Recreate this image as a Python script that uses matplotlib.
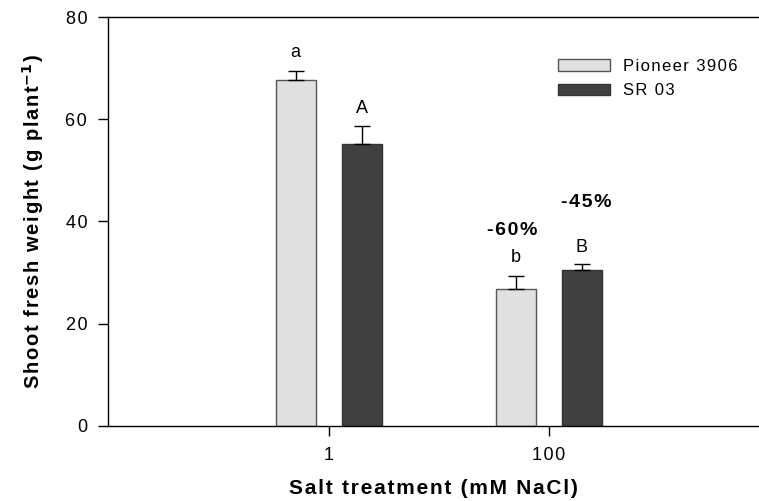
import numpy as np
import matplotlib.pyplot as plt

plt.rcParams['font.family'] = ['Liberation Sans', 'DejaVu Sans']

treatments = ["1", "100"]
pioneer = [67.6, 26.7]
pioneer_err = [1.9, 2.7]
sr03 = [55.1, 30.4]
sr03_err = [3.6, 1.2]
pioneer_letters = ["a", "b"]
sr03_letters = ["A", "B"]
reductions = ["-60%", "-45%"]


def spaced(s, sp="\u200a"):
    # the original figure has wide letter spacing
    return sp.join(s)


x = np.arange(len(treatments))
w = 0.18
off = 0.15

fig = plt.figure(figsize=(7.59, 5.01), dpi=100)
ax = fig.add_axes([108 / 759, 1 - 425.7 / 501, 1 - 108 / 759, (425.7 - 17) / 501])

ax.bar(x - off, pioneer, w, color="#e0e0e0", edgecolor="#555555", linewidth=1,
       label=spaced("Pioneer 3906"), zorder=2)
ax.bar(x + off, sr03, w, color="#404040", edgecolor="#333333", linewidth=1,
       label=spaced("SR 03"), zorder=2)
ax.errorbar(x - off, pioneer, yerr=[np.zeros(2), pioneer_err], fmt="none", ecolor="black",
            elinewidth=1, capsize=6, capthick=1, zorder=3)
ax.errorbar(x + off, sr03, yerr=[np.zeros(2), sr03_err], fmt="none", ecolor="black",
            elinewidth=1, capsize=6, capthick=1, zorder=3)

# significance letters above error bars
for i in range(len(x)):
    ax.text(x[i] - off, pioneer[i] + pioneer_err[i] + 3.5, pioneer_letters[i],
            ha="center", va="center", fontsize=13)
    ax.text(x[i] + off, sr03[i] + sr03_err[i] + 3.3, sr03_letters[i],
            ha="center", va="center", fontsize=13)

ax.text(x[1] - off - 0.015, 38.3, spaced(reductions[0]), ha="center", va="center",
        fontsize=14, fontweight="bold")
ax.text(x[1] + off + 0.02, 43.6, spaced(reductions[1]), ha="center", va="center",
        fontsize=14, fontweight="bold")

ax.set_xlim(-1.003, 1.955)
ax.set_ylim(0, 80)
ax.set_xticks(x)
ax.set_xticklabels([spaced(t) for t in treatments])
ax.set_yticks([0, 20, 40, 60, 80])
ax.set_yticklabels([spaced(str(v)) for v in [0, 20, 40, 60, 80]])
ax.tick_params(axis="both", direction="out", labelsize=13, length=7, width=1, pad=8)
ax.spines["right"].set_visible(False)
for s in ["left", "bottom", "top"]:
    ax.spines[s].set_linewidth(1)

ax.set_xlabel(spaced("Salt treatment (mM NaCl)"), fontsize=15, fontweight="bold", labelpad=11)
ax.set_ylabel(spaced("Shoot fresh weight (g plant") + "$^{\\mathbf{-1}}$" + "\u200a)",
              fontsize=14.5, fontweight="bold", labelpad=14)

ax.legend(loc="upper left", bbox_to_anchor=(0.691, 0.897), frameon=False, fontsize=12,
          handlelength=3.1, handleheight=0.7, handletextpad=0.78, labelspacing=0.55,
          borderpad=0, borderaxespad=0)

fig.savefig("out.png", dpi=100)
